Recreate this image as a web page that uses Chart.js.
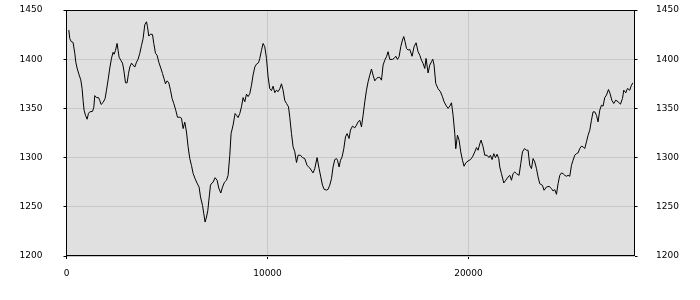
<!DOCTYPE html>
<html>
<head>
<meta charset="utf-8">
<script src="https://cdn.jsdelivr.net/npm/chart.js@4.4.1/dist/chart.umd.min.js"></script>
<style>
html,body{margin:0;padding:0;background:#fff;}
canvas{display:block;}
</style>
</head>
<body>
<canvas id="c" width="700" height="300"></canvas>
<script>
const xValues = [114,164,229,328,413,463,527,627,711,776,826,876,945,1025,1095,1159,1294,1358,1408,1493,1592,1657,1721,1821,1920,1990,2070,2154,2239,2318,2368,2438,2517,2567,2617,2701,2786,2851,2935,3015,3085,3149,3234,3313,3398,3483,3562,3647,3731,3811,3895,3980,4030,4094,4179,4279,4343,4428,4507,4592,4691,4776,4856,4925,5005,5089,5174,5254,5338,5438,5522,5637,
5721,5801,5885,5970,6050,6134,6219,6298,6398,6497,6597,6667,6766,6831,6895,6965,7030,7079,7164,7229,7293,7393,7492,7577,7676,7761,7861,7960,8040,8124,8189,8288,8388,8458,8537,8622,8706,8786,8870,8955,9035,9119,9204,9284,9368,9453,9552,9617,9701,9781,9865,9950,10030,10114,10199,10278,10363,10448,10527,10612,10696,10776,10860,10945,11045,11109,11194,11273,11358,11443,11522,11642,
11741,11856,11970,12104,12268,12353,12467,12567,12651,12736,12816,12935,13015,13099,13184,13263,13348,13433,13482,13562,13632,13711,13796,13880,13960,14059,14129,14229,14343,14428,14507,14592,14676,14756,14840,14925,15005,15089,15174,15253,15338,15423,15502,15587,15671,15751,15835,15920,16000,16084,16219,16298,16383,16467,16547,16631,16716,16780,16845,16915,16995,17079,17194,17293,17393,17492,17577,17661,17741,17825,17890,17990,18074,18159,18223,18288,18372,18487,18607,18706,18786,18905,18985,19069,19154,19234,19318,19368,19452,19532,19616,19701,19781,19865,19980,20099,20199,20313,20398,20477,20562,20626,
20726,20811,20925,21024,21094,21174,21259,21343,21423,21507,21557,21641,21756,21855,21970,22054,22139,22218,22303,22388,22517,22601,22686,22786,22885,22965,23049,23134,23213,23298,23383,23462,23547,23681,23761,23880,24009,24129,24208,24293,24378,24457,24542,24626,24706,24790,24875,24955,25039,25124,25203,25288,25373,25452,25537,25621,25701,25785,25870,25950,26034,26119,26198,26283,26368,26447,26532,26616,26696,26780,26865,26965,27044,27129,27228,27328,27442,27562,27661,27726,27825,27910,28024,28089,28173];

const yValues = [1429.6,1421,1418,1417,1406,1397,1391,1384,1379,1370,1358,1348,1343,1339,1345,1346.5,1347,1351,1363,1361,1361,1358,1354,1356,1360,1368.5,1379,1391,1401,1407,1405,1409,1416,1409,1402,1399,1396,1389,1376,1376,1385.5,1392,1396,1394,1392,1397,1400,1406,1414,1421,1435,1438,1433,1423.5,1425.5,1425,1416,1406,1404,1397,1391,1385.5,1380,1375,1378,1376,1368.5,1360,1355,1348,1341,1341,
1340,1329.5,1336,1326,1311,1299,1292,1284,1278.5,1274,1270,1260,1251.5,1243,1234.5,1239.6,1246,1256,1272,1274,1275,1279.6,1277,1269,1264,1270,1275,1277,1282,1302.4,1324.4,1333,1344.8,1343,1340.7,1344.8,1351.6,1361,1356.7,1364.5,1362,1365,1373.6,1384,1392,1395,1396.4,1400.8,1409,1416,1412.7,1400.8,1382,1370,1368,1372.6,1366,1368.5,1367,1370,1375,1368.5,1358,1355,1351.6,1341,1324.4,1311,1306,1295,1302.4,1302.4,
1300,1299,1292,1289.5,1284.4,1288.8,1300,1288.8,1280.4,1272,1267.8,1267,1267.8,1272,1278.6,1290.5,1298,1299,1297.3,1290.5,1297.3,1300.7,1309,1321,1324.4,1319.4,1328,1332,1330.2,1333,1336.3,1338,1331.2,1343,1356.7,1368.5,1377,1383.8,1390,1383.8,1378,1380.4,1381.5,1381.5,1378.7,1394,1399,1402.5,1407.6,1399.8,1399.8,1400.8,1403,1399.8,1402.5,1412.7,1419.5,1423,1417.8,1411,1409.3,1410,1403,1412.7,1416.7,1407.6,1404,1399,1395.7,1390.6,1400.8,1386,1394,1397.4,1400,1394,1375.3,1370,1366.9,1361.8,1356.7,1352.3,1350,1352.3,1355.7,1343,1324.4,1309,1322.7,1317.7,1305.8,1297.3,1291.2,1294.6,1296.6,1298,1300.7,1305.8,1310.2,1307.5,1314,1317.7,
1311,1302.4,1302.4,1300,1302.4,1298,1304,1300,1303.4,1299,1290.5,1283.7,1274.2,1277,1280.3,1282,1277,1283.7,1285.4,1283.7,1282,1293.9,1305.8,1309.2,1307.5,1307.5,1292.2,1288.8,1299,1295.6,1288.8,1280.3,1273.5,1271.8,1266.8,1270.1,1270.8,1268.5,1266.1,1267.4,1262.7,1273.5,1282,1284.4,1283.7,1282,1281,1282,1281,1292.2,1297.3,1302.4,1304,1304.8,1309.2,1311.6,1311,1309.2,1316,1322.7,1327.8,1338,1346.5,1346.5,1343,1336.3,1348.2,1353.3,1352.3,1361,1363.5,1369.2,1365.2,1358.4,1355,1358.4,1356.7,1354.3,1360,1368.5,1365.8,1370.3,1368.5,1372.6,1376];

const xTicks = [0, 10000, 20000];
const yTicks = [1200, 1250, 1300, 1350, 1400, 1450];
const xMin = 0, xMax = 28260;
const yMin = 1200, yMax = 1450;

const points = xValues.map((x, i) => ({x: x, y: yValues[i]}));

const tickFont = {family: 'DejaVu Sans', size: 9};

const framePlugin = {
  id: 'frame',
  beforeDraw(chart) {
    const a = chart.chartArea, ctx = chart.ctx;
    ctx.save();
    ctx.fillStyle = '#e0e0e0';
    ctx.fillRect(a.left, a.top, a.right - a.left, a.bottom - a.top);
    ctx.restore();
  },
  beforeDatasetsDraw(chart) {
    const a = chart.chartArea, ctx = chart.ctx;
    const l = Math.floor(a.left) + 0.5, t = Math.floor(a.top) + 0.5;
    const r = Math.floor(a.right) + 0.5, b = Math.floor(a.bottom - 0.5) + 0.5;
    ctx.save();
    ctx.strokeStyle = '#000';
    ctx.lineWidth = 1;
    ctx.strokeRect(l, t, r - l, b - t);
    ctx.restore();
  }
};

new Chart(document.getElementById('c'), {
  type: 'line',
  data: {
    datasets: [{
      data: points,
      borderColor: '#000',
      borderWidth: 1,
      pointRadius: 0,
      tension: 0,
      fill: false
    }]
  },
  options: {
    responsive: false,
    animation: false,
    events: [],
    layout: {padding: {top: 10, left: 19.5, right: 21, bottom: 0}},
    plugins: {legend: {display: false}, tooltip: {enabled: false}, title: {display: false}},
    scales: {
      x: {
        type: 'linear',
        position: 'bottom',
        min: xMin, max: xMax,
        afterBuildTicks(s) { s.ticks = xTicks.map(v => ({value: v})); },
        afterFit(s) { s.height = 44; },
        grid: {color: '#c8c8c8', tickColor: '#000', tickLength: 3, lineWidth: 1},
        border: {display: false},
        ticks: {font: tickFont, color: '#000', padding: 9, maxRotation: 0, autoSkip: false,
                callback: v => String(v)}
      },
      y: {
        type: 'linear',
        position: 'left',
        min: yMin, max: yMax,
        afterBuildTicks(s) { s.ticks = yTicks.map(v => ({value: v})); },
        afterFit(s) { s.width = 47; },
        grid: {color: '#c8c8c8', tickColor: '#000', tickLength: 3, lineWidth: 1},
        border: {display: false},
        ticks: {font: tickFont, color: '#000', padding: 0, crossAlign: 'far', autoSkip: false, callback: v => String(v)}
      },
      y2: {
        type: 'linear',
        position: 'right',
        min: yMin, max: yMax,
        afterBuildTicks(s) { s.ticks = yTicks.map(v => ({value: v})); },
        afterFit(s) { s.width = 44.5; },
        grid: {drawOnChartArea: false, tickColor: '#000', tickLength: 3, lineWidth: 1},
        border: {display: false},
        ticks: {font: tickFont, color: '#000', padding: 0, crossAlign: 'far', autoSkip: false, callback: v => String(v)}
      }
    }
  },
  plugins: [framePlugin]
});
</script>
</body>
</html>
